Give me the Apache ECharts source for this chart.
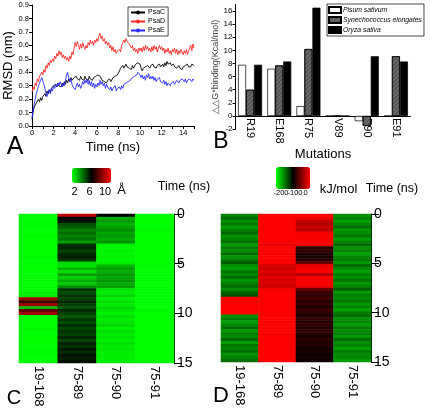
<!DOCTYPE html>
<html><head><meta charset="utf-8">
<script src="https://cdn.jsdelivr.net/npm/echarts@6/dist/echarts.min.js"></script>
<style>html,body{margin:0;padding:0;background:#fff}#c{width:430px;height:412px}</style>
</head><body><div id="c"></div>
<script>
// ---------- Panel A: RMSD (nm) every 0.1 ns from 0 to 15 ns ----------
const timeStep = 0.1;
const psaC = [0.05,0.10,0.14,0.13,0.17,0.16,0.20,0.18,0.21,0.19,0.22,
0.21,0.24,0.22,0.26,0.24,0.27,0.25,0.28,0.27,0.30,
0.29,0.31,0.29,0.32,0.30,0.31,0.29,0.32,0.30,0.33,
0.31,0.34,0.32,0.35,0.33,0.36,0.34,0.33,0.36,0.35,
0.37,0.35,0.36,0.34,0.37,0.35,0.36,0.34,0.37,0.35,
0.36,0.34,0.37,0.35,0.36,0.34,0.36,0.35,0.37,0.36,
0.38,0.39,0.37,0.36,0.34,0.35,0.33,0.34,0.32,0.34,
0.33,0.35,0.33,0.34,0.36,0.35,0.37,0.36,0.38,0.39,
0.41,0.43,0.42,0.45,0.43,0.44,0.46,0.44,0.45,0.43,
0.44,0.42,0.45,0.43,0.44,0.46,0.45,0.47,0.48,0.46,
0.43,0.41,0.43,0.42,0.44,0.43,0.45,0.44,0.43,0.45,
0.44,0.46,0.44,0.45,0.43,0.45,0.44,0.46,0.44,0.45,
0.46,0.44,0.47,0.45,0.48,0.46,0.45,0.47,0.45,0.44,
0.46,0.44,0.45,0.43,0.44,0.45,0.43,0.44,0.42,0.44,
0.43,0.45,0.44,0.46,0.44,0.45,0.44,0.46,0.45,0.45];
const psaD = [0.25,0.29,0.27,0.32,0.30,0.35,0.33,0.37,0.36,0.40,0.38,
0.42,0.40,0.45,0.43,0.47,0.45,0.49,0.47,0.50,0.48,
0.52,0.50,0.54,0.52,0.56,0.53,0.55,0.51,0.53,0.50,
0.52,0.49,0.51,0.48,0.52,0.50,0.55,0.53,0.58,0.62,
0.59,0.63,0.60,0.57,0.61,0.58,0.62,0.59,0.57,0.60,
0.58,0.62,0.60,0.64,0.61,0.63,0.60,0.64,0.62,0.65,
0.63,0.67,0.69,0.65,0.67,0.63,0.65,0.61,0.63,0.60,
0.62,0.58,0.60,0.56,0.59,0.55,0.57,0.54,0.56,0.55,
0.57,0.55,0.60,0.62,0.64,0.62,0.65,0.63,0.64,0.61,
0.62,0.58,0.60,0.56,0.58,0.55,0.57,0.54,0.58,0.56,
0.58,0.55,0.59,0.56,0.60,0.57,0.59,0.56,0.58,0.55,
0.59,0.56,0.60,0.57,0.59,0.55,0.58,0.60,0.57,0.59,
0.56,0.58,0.54,0.57,0.55,0.58,0.54,0.56,0.53,0.57,
0.55,0.58,0.54,0.57,0.53,0.56,0.54,0.57,0.55,0.53,
0.56,0.54,0.57,0.53,0.56,0.55,0.60,0.56,0.61,0.58];
const psaE = [0.06,0.12,0.16,0.20,0.24,0.27,0.30,0.32,0.34,0.36,0.35,
0.31,0.28,0.24,0.22,0.25,0.27,0.24,0.28,0.26,0.30,
0.28,0.31,0.29,0.32,0.30,0.33,0.31,0.29,0.32,0.30,
0.34,0.38,0.40,0.36,0.33,0.35,0.31,0.29,0.30,0.27,
0.30,0.32,0.29,0.31,0.28,0.30,0.33,0.31,0.34,0.32,
0.35,0.31,0.34,0.30,0.33,0.29,0.32,0.28,0.31,0.29,
0.32,0.30,0.34,0.31,0.33,0.30,0.32,0.28,0.31,0.29,
0.30,0.27,0.29,0.26,0.28,0.27,0.30,0.26,0.28,0.27,
0.29,0.27,0.30,0.28,0.31,0.30,0.32,0.31,0.33,0.32,
0.34,0.33,0.36,0.35,0.37,0.36,0.38,0.40,0.41,0.38,
0.36,0.38,0.35,0.37,0.34,0.38,0.36,0.39,0.35,0.37,
0.35,0.37,0.34,0.36,0.33,0.35,0.34,0.36,0.33,0.34,
0.32,0.34,0.31,0.33,0.30,0.32,0.31,0.30,0.32,0.31,
0.33,0.31,0.32,0.34,0.33,0.32,0.34,0.33,0.35,0.34,
0.33,0.35,0.32,0.34,0.33,0.35,0.34,0.33,0.35,0.34];
const xTicksA = [0,2,4,6,8,10,12,14];

// ---------- Panel B ----------
const mutations = ['R19','E168','R75','V89','E90','E91'];
const pisum = [7.8, 7.2, 1.5, 0, -0.8, 0];
const synecho = [4.0, 7.7, 10.2, 0, -1.5, 9.1];
const oryza = [7.8, 8.3, 16.5, 0, 9.1, 8.3];
const yTicksB = [-2,0,2,4,6,8,10,12,14,16];

// ---------- Panels C & D: 50 rows of 0.3 ns ----------
const pairs = ['19-168','75-89','75-90','75-91'];
const distC1 = [2,2,2,2.1,2,2,2,2.1,2,2, 2,2,2,2,2.1,2,2,2,2,2, 2,2.1,2,2,2,2,2.2,2.3, 8.5,7,8.5,3,7.5,8.5, 2,2,2,2,2.1,2,2,2,2,2, 2,2,2.1,2,2,2];
const distC2 = [9,6,5.8,4.8,4.5,4,4.3,3.9,4.2,3.5, 5.2,5.4,4.9,5.3,5.5,5.1,2.6,2.4,3.2,2.5, 3.5,2.7,3.3,2.8,3.8,5.2,
4.8,5.2,4.9,5.4,5.0,4.7,5.3,5.0,4.6,5.1, 4.8,5.3,4.9,5.2,5.0,5.4,4.9,5.5,5.2,5.6, 5.3,5.7,5.5,5.8];
const distC3 = [6, 3.3,3.6,3.2,3.5,3.8,3.4,3.6,3.3,3.7, 2.2,2.1,2.2,2.1,2.2,2.1,2.3, 3.2,3.5,3.3,3.6,3.4,3.7,3.3,3.5,
2.4,2.3,2.6,2.2,2.5,2.3,2.6,2.4,2.2,2.5, 2.3,2.4,2.6,2.2,2.5,2.3,2.4,2.2,2.5,2.3, 2.4,2.2,2.3,2.2,2.3];
const distC4 = [2,2,2,2,2,2.1,2,2,2,2, 2,2,2,2,2,2,2,2.1,2,2, 2,2,2,2,2,2,2,2,2,2, 2,2,2.1,2,2,2,2,2,2,2, 2,2,2,2,2,2,2,2,2,2];
const enerD1 = [-152,-142,-157,-147,-162,-150,-140,-157,-152,-144, -160,-149,-154,-142,-158,-150,-137,-155,-162,-147, -152,-144,-159,-150,-142,-156,-140,-132, 0,0,0,0,0,0, -157,-147,-162,-152,-142,-160,-150,-154,-140,-162, -147,-152,-142,-158,-150,-144];
const enerD2 = [0,0,0,0,0,0,0,0,0,0, -8,0,0,0,0,0,0,-15,-20,-12, -18,-10,-16,-14,-20,-6,0,0,0,0, 0,0,0,0,0,0,0,0,0,0, 0,0,0,0,0,0,0,0,0,0];
const enerD3 = [0,-5,-25,-30,-20,-28,-3,0,-2,0, -4,-85,-80,-88,-90,-86,-60,-10,-5,0, -30,0,-3,0,-5,-60,-78,-82,-75,-85, -80,-88,-76,-84,-90,-79,-86,-82,-88,-80, -85,-90,-83,-88,-86,-92,-89,-94,-91,-95];
const enerD4 = [-157,-150,-162,-152,-144,-160,-154,-147,-162,-152, -140,-157,-150,-164,-152,-147,-159,-142,-155,-162, -150,-157,-144,-160,-152,-137,-162,-150,-155,-147, -160,-152,-164,-149,-142,-158,-152,-162,-147,-155, -150,-160,-142,-157,-152,-162,-148,-155,-152,-160];
const timeTicksCD = [0,5,10,15];

// ---------- build ----------
const F = 'Liberation Sans, Arial, sans-serif';
const toPairs = arr => arr.map((v, i) => [+(i * timeStep).toFixed(1), v]);
const rowsIdx = distC1.map((_, i) => String(i));
const heat = cols => { const out = []; cols.forEach((col, c) => col.forEach((v, r) => out.push([c, r, v]))); return out; };
const heatC = heat([distC1, distC2, distC3, distC4]);
const heatD = heat([enerD1, enerD2, enerD3, enerD4]);
const blackAxis = { lineStyle: { color: '#000', width: 1 } };

const gridB = { left: 235.5, top: 4.4, width: 175, height: 124.7 };
const bMin = -2, bMax = 17;
const zeroShift = gridB.height * (0 - bMin) / (bMax - bMin); // px from grid bottom to y=0

const chart = echarts.init(document.getElementById('c'), null, { renderer: 'canvas' });
chart.setOption({
  animation: false,
  textStyle: { fontFamily: F, color: '#000' },
  grid: [
    { left: 32, top: 5, width: 162, height: 121 },
    gridB,
    { left: 19, top: 214, width: 155, height: 149 },
    { left: 221, top: 214, width: 150, height: 148 }
  ],
  xAxis: [
    { type: 'value', gridIndex: 0, min: 0, max: 15, interval: 1,
      axisLine: blackAxis, axisTick: { length: 3, lineStyle: { color: '#000' } }, splitLine: { show: false },
      axisLabel: { fontSize: 7.5, margin: 3, color: '#000', customValues: xTicksA },
      name: 'Time (ns)', nameLocation: 'middle', nameGap: 14.5, nameTextStyle: { fontSize: 13, color: '#000' } },
    { type: 'category', gridIndex: 1, data: mutations, offset: -zeroShift,
      axisLine: { onZero: false, lineStyle: { color: '#000', width: 1 } }, axisTick: { show: false },
      axisLabel: { rotate: -90, fontSize: 11, margin: 2, color: '#000' },
      name: 'Mutations', nameLocation: 'middle', nameGap: 30, nameTextStyle: { fontSize: 13, color: '#000' } },
    { type: 'category', gridIndex: 2, data: pairs, position: 'bottom',
      axisLine: { show: false }, axisTick: { show: false },
      axisLabel: { rotate: -90, fontSize: 13, margin: 3, color: '#000' } },
    { type: 'category', gridIndex: 3, data: pairs, position: 'bottom',
      axisLine: { show: false }, axisTick: { show: false },
      axisLabel: { rotate: -90, fontSize: 13, margin: 3, color: '#000' } }
  ],
  yAxis: [
    { type: 'value', gridIndex: 0, min: 0, max: 0.9, interval: 0.1,
      axisLine: { show: true, lineStyle: { color: '#000' } }, axisTick: { show: true, length: 3, lineStyle: { color: '#000' } },
      splitLine: { show: false },
      axisLabel: { fontSize: 7.5, margin: 3, color: '#000', formatter: v => v.toFixed(1) },
      name: 'RMSD (nm)', nameLocation: 'middle', nameGap: 15, nameTextStyle: { fontSize: 13, color: '#000' } },
    { type: 'value', gridIndex: 1, min: bMin, max: bMax, interval: 2,
      axisLine: { show: true, onZero: false, lineStyle: { color: '#000' } },
      axisTick: { show: true, length: 3, customValues: yTicksB, lineStyle: { color: '#000' } },
      splitLine: { show: false },
      axisLabel: { fontSize: 8, margin: 3, color: '#000', customValues: yTicksB },
      name: '△△G*binding(Kcal/mol)', nameLocation: 'middle', nameGap: 13, nameTextStyle: { fontSize: 9, color: '#444' } },
    { type: 'category', gridIndex: 2, data: rowsIdx, inverse: true, show: false },
    { type: 'value', gridIndex: 2, min: 0, max: 15, interval: 5, inverse: true, position: 'right',
      axisLine: { show: true, lineStyle: { color: '#000' } }, axisTick: { show: true, length: 8, lineStyle: { color: '#000' } },
      splitLine: { show: false }, axisLabel: { fontSize: 14, margin: 3, color: '#000', customValues: timeTicksCD } },
    { type: 'category', gridIndex: 3, data: rowsIdx, inverse: true, show: false },
    { type: 'value', gridIndex: 3, min: 0, max: 15, interval: 5, inverse: true, position: 'right',
      axisLine: { show: true, lineStyle: { color: '#000' } }, axisTick: { show: true, length: 8, lineStyle: { color: '#000' } },
      splitLine: { show: false }, axisLabel: { fontSize: 14, margin: 3, color: '#000', customValues: timeTicksCD } }
  ],
  legend: [
    { data: ['PsaC', 'PsaD', 'PsaE'], orient: 'vertical', left: 128, top: 7,
      itemWidth: 14, itemHeight: 5, itemGap: 2, padding: [2, 3, 2, 2],
      borderColor: '#000', borderWidth: 0.7, textStyle: { fontSize: 7, color: '#000', padding: [0, 0, 0, -2] } },
    { data: ['Pisum sativum', 'Synechococcus elongates', 'Oryza sativa'], orient: 'vertical', left: 327, top: 4,
      icon: 'rect', itemWidth: 12, itemHeight: 6, itemGap: 2, padding: [2, 2, 2, 1],
      borderColor: '#000', borderWidth: 0.7, textStyle: { fontSize: 6.8, fontStyle: 'italic', color: '#000', padding: [0, 0, 0, -3] } }
  ],
  visualMap: [
    { type: 'continuous', seriesIndex: 6, min: 2, max: 10, show: true, orient: 'horizontal',
      left: 72, top: 168, itemWidth: 15, itemHeight: 39, padding: 0, calculable: false, hoverLink: false,
      inRange: { color: ['#00ff00', '#000000', '#ff0000'] } },
    { type: 'continuous', seriesIndex: 7, min: -200, max: 0, show: true, orient: 'horizontal',
      left: 276, top: 167, itemWidth: 22, itemHeight: 34, padding: 0, calculable: false, hoverLink: false,
      inRange: { color: ['#00ff00', '#000000', '#ff0000'] } }
  ],
  series: [
    { name: 'PsaC', type: 'line', xAxisIndex: 0, yAxisIndex: 0, data: toPairs(psaC), showSymbol: false, symbol: 'circle', symbolSize: 3,
      lineStyle: { color: '#000', width: 0.9 }, itemStyle: { color: '#000' } },
    { name: 'PsaD', type: 'line', xAxisIndex: 0, yAxisIndex: 0, data: toPairs(psaD), showSymbol: false, symbol: 'circle', symbolSize: 3,
      lineStyle: { color: '#ff2a2a', width: 0.9 }, itemStyle: { color: '#ff2a2a' } },
    { name: 'PsaE', type: 'line', xAxisIndex: 0, yAxisIndex: 0, data: toPairs(psaE), showSymbol: false, symbol: 'circle', symbolSize: 3,
      lineStyle: { color: '#2a2aff', width: 0.9 }, itemStyle: { color: '#2a2aff' } },
    { name: 'Pisum sativum', type: 'bar', xAxisIndex: 1, yAxisIndex: 1, data: pisum, barWidth: 8, barGap: '0%',
      itemStyle: { color: '#fff', borderColor: '#000', borderWidth: 0.7 } },
    { name: 'Synechococcus elongates', type: 'bar', xAxisIndex: 1, yAxisIndex: 1, data: synecho, barWidth: 8, barGap: '0%',
      itemStyle: { color: '#6a6a6a', borderColor: '#000', borderWidth: 0.7,
        decal: { symbol: 'rect', dashArrayX: [1, 0], dashArrayY: [1, 2], rotation: -Math.PI / 4, color: 'rgba(0,0,0,0.3)' } } },
    { name: 'Oryza sativa', type: 'bar', xAxisIndex: 1, yAxisIndex: 1, data: oryza, barWidth: 8, barGap: '0%',
      itemStyle: { color: '#000', borderColor: '#000', borderWidth: 0.7 } },
    { type: 'heatmap', xAxisIndex: 2, yAxisIndex: 2, data: heatC, emphasis: { disabled: true } },
    { type: 'heatmap', xAxisIndex: 3, yAxisIndex: 4, data: heatD, emphasis: { disabled: true } }
  ],
  graphic: [
    { type: 'text', x: 15, y: 147, style: { text: 'A', font: '25px ' + F, fill: '#000', align: 'center', verticalAlign: 'middle' } },
    { type: 'text', x: 221, y: 142, style: { text: 'B', font: '23px ' + F, fill: '#000', align: 'center', verticalAlign: 'middle' } },
    { type: 'text', x: 14, y: 398, style: { text: 'C', font: '20px ' + F, fill: '#000', align: 'center', verticalAlign: 'middle' } },
    { type: 'text', x: 221, y: 396, style: { text: 'D', font: '22px ' + F, fill: '#000', align: 'center', verticalAlign: 'middle' } },
    { type: 'text', x: 74.5, y: 192, style: { text: '2', font: '11px ' + F, fill: '#000', align: 'center', verticalAlign: 'middle' } },
    { type: 'text', x: 89.5, y: 192, style: { text: '6', font: '11px ' + F, fill: '#000', align: 'center', verticalAlign: 'middle' } },
    { type: 'text', x: 105, y: 192, style: { text: '10', font: '11px ' + F, fill: '#000', align: 'center', verticalAlign: 'middle' } },
    { type: 'text', x: 121.5, y: 190, style: { text: 'Å', font: '13px ' + F, fill: '#000', align: 'center', verticalAlign: 'middle' } },
    { type: 'text', x: 184, y: 187, style: { text: 'Time (ns)', font: '12.5px ' + F, fill: '#000', align: 'center', verticalAlign: 'middle' } },
    { type: 'text', x: 281, y: 193, style: { text: '-200', font: '7.5px ' + F, fill: '#000', align: 'center', verticalAlign: 'middle' } },
    { type: 'text', x: 295, y: 193, style: { text: '-100', font: '7.5px ' + F, fill: '#000', align: 'center', verticalAlign: 'middle' } },
    { type: 'text', x: 305.5, y: 193, style: { text: '0', font: '7.5px ' + F, fill: '#000', align: 'center', verticalAlign: 'middle' } },
    { type: 'text', x: 338.5, y: 189, style: { text: 'kJ/mol', font: '13px ' + F, fill: '#000', align: 'center', verticalAlign: 'middle' } },
    { type: 'text', x: 392, y: 189, style: { text: 'Time (ns)', font: '12.5px ' + F, fill: '#000', align: 'center', verticalAlign: 'middle' } }
  ]
});
</script>
</body></html>
